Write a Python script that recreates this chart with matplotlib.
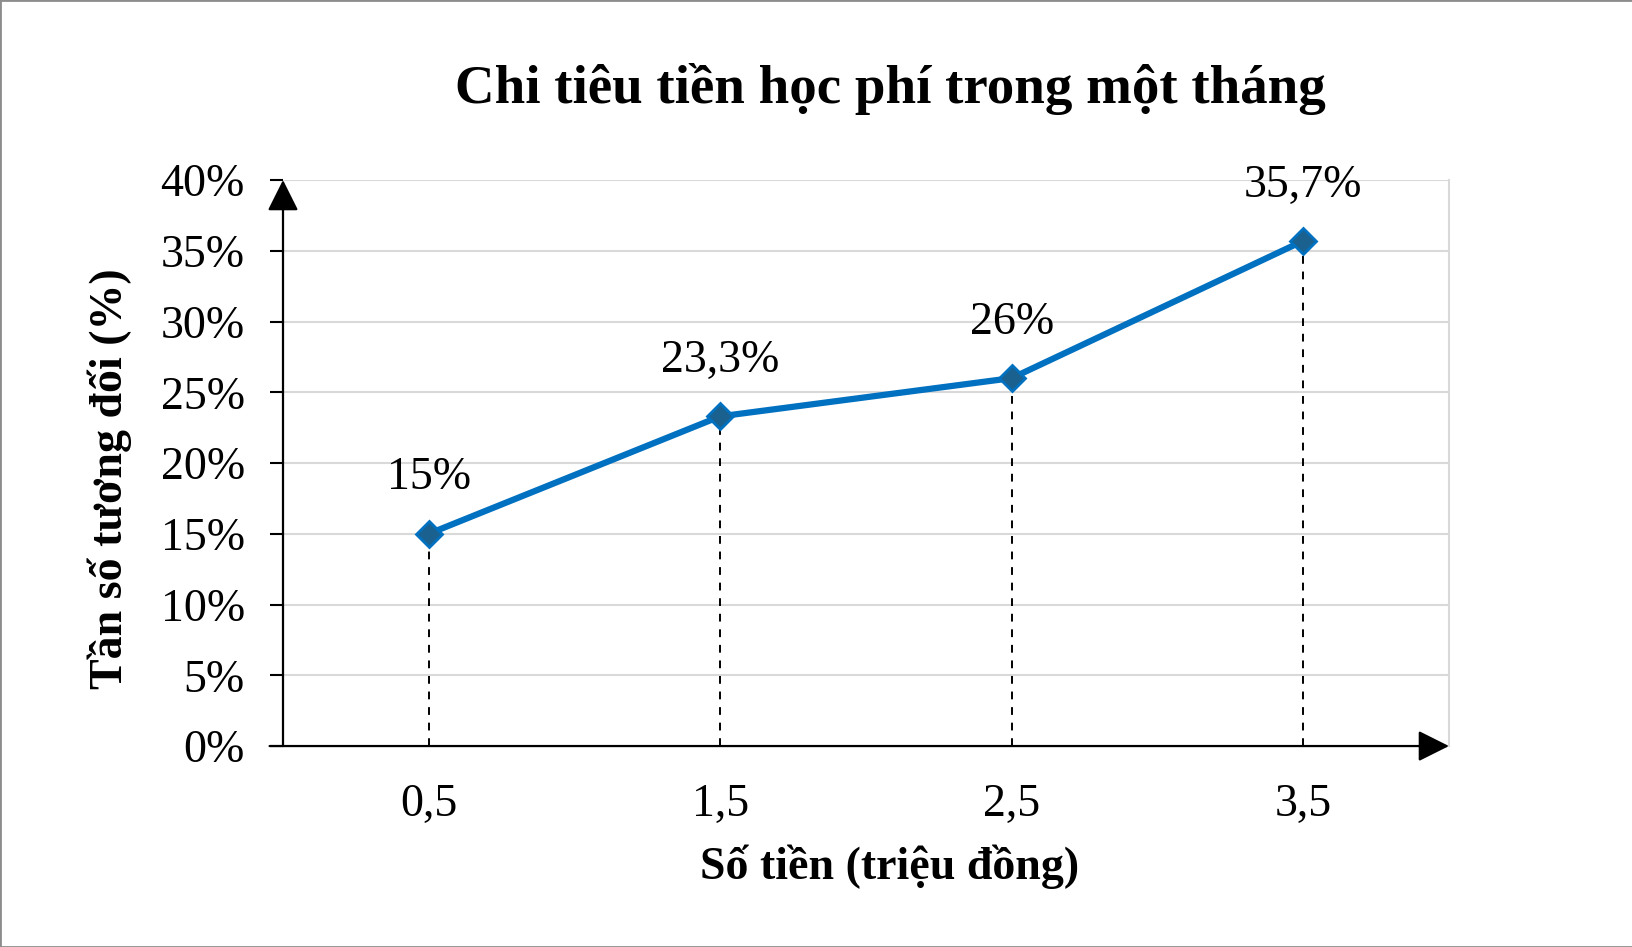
import matplotlib
matplotlib.use("Agg")
import matplotlib.pyplot as plt
from matplotlib.patches import Rectangle
from matplotlib.ticker import MultipleLocator, FuncFormatter

# data
x_labels = ["0,5", "1,5", "2,5", "3,5"]
x_pos = [0.5, 1.5, 2.5, 3.5]
values = [15.0, 23.3, 26.0, 35.7]
value_labels = ["15%", "23,3%", "26%", "35,7%"]

plt.rcParams["font.family"] = ["Liberation Serif", "DejaVu Serif"]

fig = plt.figure(figsize=(16.33, 9.47), dpi=100)
ax = fig.add_axes([0.1733, 0.2122, 0.8873 - 0.1733, 0.8099 - 0.2122])

ax.set_xlim(0, 4)
ax.set_ylim(0, 40)
ax.yaxis.set_major_locator(MultipleLocator(5))
ax.yaxis.set_major_formatter(FuncFormatter(lambda v, _: f"{v:.0f}%"))
ax.grid(axis="y", color="#d9d9d9", linewidth=1.5)
ax.set_axisbelow(True)

for s in ("left", "bottom", "top"):
    ax.spines[s].set_visible(False)
ax.spines["right"].set_color("#d9d9d9")
ax.spines["right"].set_linewidth(1.5)

ax.set_xticks(x_pos)
ax.set_xticklabels(x_labels)
ax.tick_params(axis="x", length=0, pad=27, labelsize=33)
ax.tick_params(axis="y", length=9.5, width=1.5, pad=18, labelsize=33)

# axis arrows
arrow_kw = dict(arrowstyle="-|>", mutation_scale=48, lw=1.6, color="black",
                shrinkA=0, shrinkB=0)
ax.annotate("", xy=(0, 1), xytext=(0, 0), xycoords="axes fraction",
            textcoords="axes fraction", arrowprops=arrow_kw)
ax.annotate("", xy=(1, 0), xytext=(-0.0115, 0), xycoords="axes fraction",
            textcoords="axes fraction", arrowprops=arrow_kw)

# dashed drop lines
ax.vlines(x_pos, 0, values, colors="black", linestyles=(0, (4, 4)), linewidth=1.4, zorder=2)

ax.plot(x_pos, values, color="#0070C0", linewidth=4.5, marker="D", markersize=13,
        markerfacecolor="#1a6190", markeredgecolor="#0070C0", markeredgewidth=2, zorder=3)

for xp, v, lab in zip(x_pos, values, value_labels):
    ax.annotate(lab, (xp, v), xytext=(0, 40), textcoords="offset points",
                ha="center", va="center", fontsize=33)

fig.text(0.545, 0.906, "Chi tiêu tiền học phí trong một tháng", ha="center", va="center",
         fontsize=39.5, fontweight="bold")
fig.text(0.545, 0.085, "Số tiền (triệu đồng)", ha="center", va="center",
         fontsize=33, fontweight="bold")
fig.text(0.067, 0.494, "Tần số tương đối (%)", ha="center", va="center",
         rotation=90, fontsize=33, fontweight="bold")

fig.patches.append(Rectangle((0, 0), 1, 1, transform=fig.transFigure, fill=False,
                             edgecolor="#8c8c8c", linewidth=2))

fig.savefig("out.png", dpi=100)
